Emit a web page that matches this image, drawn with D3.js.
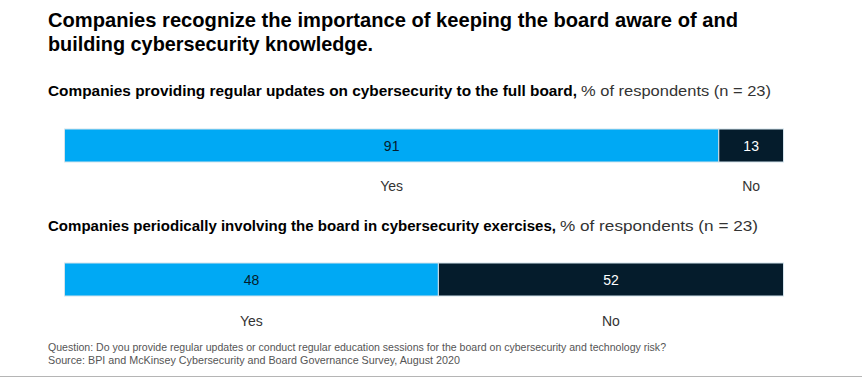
<!DOCTYPE html>
<html>
<head>
<meta charset="utf-8">
<script src="https://cdn.jsdelivr.net/npm/d3@7"></script>
<style>
  html, body { margin: 0; padding: 0; background: #fff; }
  svg { display: block; }
  text { font-family: "Liberation Sans", Arial, sans-serif; }
</style>
</head>
<body>
<svg id="chart" width="865" height="379"></svg>
<script>
// ---- Data ----
const titleLines = [
  "Companies recognize the importance of keeping the board aware of and",
  "building cybersecurity knowledge."
];
const questions = [
  "Companies providing regular updates on cybersecurity to the full board,",
  "Companies periodically involving the board in cybersecurity exercises,"
];
const unitLabel = "% of respondents (n = 23)";
const categories = ["Yes", "No"];
// values printed on the bars
const yesValues = [91, 48];
const noValues = [13, 52];
// length of the "Yes" segment as drawn in the reference (% of bar length)
const yesBarShare = [91, 52];
const footnotes = [
  "Question: Do you provide regular updates or conduct regular education sessions for the board on cybersecurity and technology risk?",
  "Source: BPI and McKinsey Cybersecurity and Board Governance Survey, August 2020"
];

// ---- Layout ----
const svg = d3.select("#chart");
const colors = { Yes: "#00A9F4", No: "#051C2C" };
const x = d3.scaleLinear().domain([0, 100]).range([64.5, 783.5]);
const barH = 33;
const panels = [
  { subY: 96, barY: 129, labY: 191, boldW: 529, normX: 581, normW: 190 },
  { subY: 231, barY: 263, labY: 326, boldW: 508, normX: 560, normW: 198 }
];

// Title
const titleWidths = [690, 325];
svg.selectAll("text.title").data(titleLines).join("text")
  .attr("class", "title")
  .attr("x", 48)
  .attr("y", (d, i) => 27 + i * 24)
  .attr("font-size", 21)
  .attr("font-weight", "bold")
  .attr("fill", "#000")
  .attr("textLength", (d, i) => titleWidths[i])
  .attr("lengthAdjust", "spacingAndGlyphs")
  .text(d => d);

questions.forEach((q, i) => {
  const p = panels[i];
  const g = svg.append("g");
  g.append("text")
    .attr("x", 48).attr("y", p.subY)
    .attr("font-size", 15.5).attr("font-weight", "bold").attr("fill", "#000")
    .attr("textLength", p.boldW).attr("lengthAdjust", "spacingAndGlyphs")
    .text(q);
  g.append("text")
    .attr("x", p.normX).attr("y", p.subY)
    .attr("font-size", 15.5).attr("fill", "#333")
    .attr("textLength", p.normW).attr("lengthAdjust", "spacingAndGlyphs")
    .text(unitLabel);

  const segs = [
    { cat: "Yes", x0: 0, x1: yesBarShare[i], v: yesValues[i] },
    { cat: "No", x0: yesBarShare[i], x1: 100, v: noValues[i] }
  ];
  g.selectAll("rect").data(segs).join("rect")
    .attr("x", d => x(d.x0))
    .attr("y", p.barY)
    .attr("width", d => x(d.x1) - x(d.x0))
    .attr("height", barH)
    .attr("fill", d => colors[d.cat])
    .attr("stroke", "#d3e3ec")
    .attr("stroke-width", 1);

  g.selectAll("text.val").data(segs).join("text")
    .attr("class", "val")
    .attr("x", d => x((d.x0 + d.x1) / 2))
    .attr("y", p.barY + barH / 2 + 5)
    .attr("text-anchor", "middle")
    .attr("font-size", 14)
    .attr("fill", d => d.cat === "Yes" ? "#051C2C" : "#fff")
    .text(d => d.v);

  g.selectAll("text.cat").data(segs).join("text")
    .attr("class", "cat")
    .attr("x", d => x((d.x0 + d.x1) / 2))
    .attr("y", p.labY)
    .attr("text-anchor", "middle")
    .attr("font-size", 14)
    .attr("fill", "#333")
    .text(d => d.cat);
});

// Footnotes
const footWidths = [618, 412];
svg.selectAll("text.foot").data(footnotes).join("text")
  .attr("class", "foot")
  .attr("x", 48)
  .attr("y", (d, i) => 351 + i * 13)
  .attr("font-size", 11)
  .attr("fill", "#555")
  .attr("textLength", (d, i) => footWidths[i])
  .attr("lengthAdjust", "spacingAndGlyphs")
  .text(d => d);

svg.append("line")
  .attr("x1", 0).attr("x2", 862)
  .attr("y1", 376.5).attr("y2", 376.5)
  .attr("stroke", "#b5b5b5").attr("stroke-width", 1);
</script>
</body>
</html>
